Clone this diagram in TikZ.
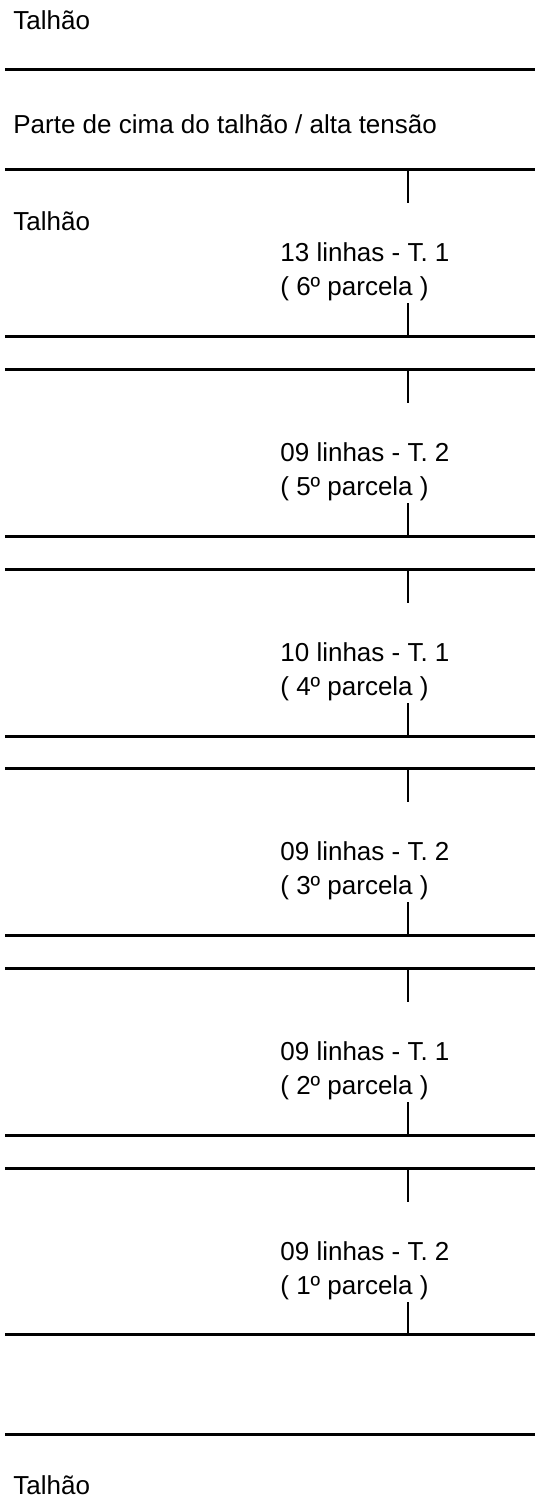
\documentclass[tikz,border=0pt]{standalone}
\usepackage{fontspec}
\setmainfont{Liberation Sans}
\begin{document}
\begin{tikzpicture}[x=0.5pt,y=-0.5pt]
\tikzset{faixa/.style={line width=1.5pt},
  marca/.style={line width=1.3pt},
  rotulo/.style={anchor=base west, inner sep=0pt, font=\fontsize{13pt}{17pt}\selectfont}}
\useasboundingbox (0,0) rectangle (535,1499);

\node[rotulo] (topo) at (13,29) {Talhão};
\node[rotulo] (cima) at (13,133) {Parte de cima do talhão / alta tensão};
\node[rotulo] (talhao) at (13,230) {Talhão};
\node[rotulo] (base) at (13,1494) {Talhão};

\draw[faixa] (5,69) -- (535,69);

% parcela 6
\draw[faixa] (5,169) -- (535,169);
\draw[marca] (408,169) -- (408,203);
\node[rotulo] (linhas6) at (280,261) {13 linhas - T. 1};
\node[rotulo] (parcela6) at (280,295) {( 6º parcela )};
\draw[marca] (408,303) -- (408,336);
\draw[faixa] (5,336) -- (535,336);

% parcela 5
\draw[faixa] (5,369) -- (535,369);
\draw[marca] (408,369) -- (408,403);
\node[rotulo] (linhas5) at (280,461) {09 linhas - T. 2};
\node[rotulo] (parcela5) at (280,495) {( 5º parcela )};
\draw[marca] (408,503) -- (408,536);
\draw[faixa] (5,536) -- (535,536);

% parcela 4
\draw[faixa] (5,569) -- (535,569);
\draw[marca] (408,569) -- (408,603);
\node[rotulo] (linhas4) at (280,661) {10 linhas - T. 1};
\node[rotulo] (parcela4) at (280,695) {( 4º parcela )};
\draw[marca] (408,703) -- (408,736);
\draw[faixa] (5,736) -- (535,736);

% parcela 3
\draw[faixa] (5,768) -- (535,768);
\draw[marca] (408,768) -- (408,802);
\node[rotulo] (linhas3) at (280,860) {09 linhas - T. 2};
\node[rotulo] (parcela3) at (280,894) {( 3º parcela )};
\draw[marca] (408,902) -- (408,935);
\draw[faixa] (5,935) -- (535,935);

% parcela 2
\draw[faixa] (5,968) -- (535,968);
\draw[marca] (408,968) -- (408,1002);
\node[rotulo] (linhas2) at (280,1060) {09 linhas - T. 1};
\node[rotulo] (parcela2) at (280,1094) {( 2º parcela )};
\draw[marca] (408,1102) -- (408,1135);
\draw[faixa] (5,1135) -- (535,1135);

% parcela 1
\draw[faixa] (5,1168) -- (535,1168);
\draw[marca] (408,1168) -- (408,1202);
\node[rotulo] (linhas1) at (280,1260) {09 linhas - T. 2};
\node[rotulo] (parcela1) at (280,1294) {( 1º parcela )};
\draw[marca] (408,1302) -- (408,1334);
\draw[faixa] (5,1334) -- (535,1334);

\draw[faixa] (5,1434) -- (535,1434);
\end{tikzpicture}
\end{document}
